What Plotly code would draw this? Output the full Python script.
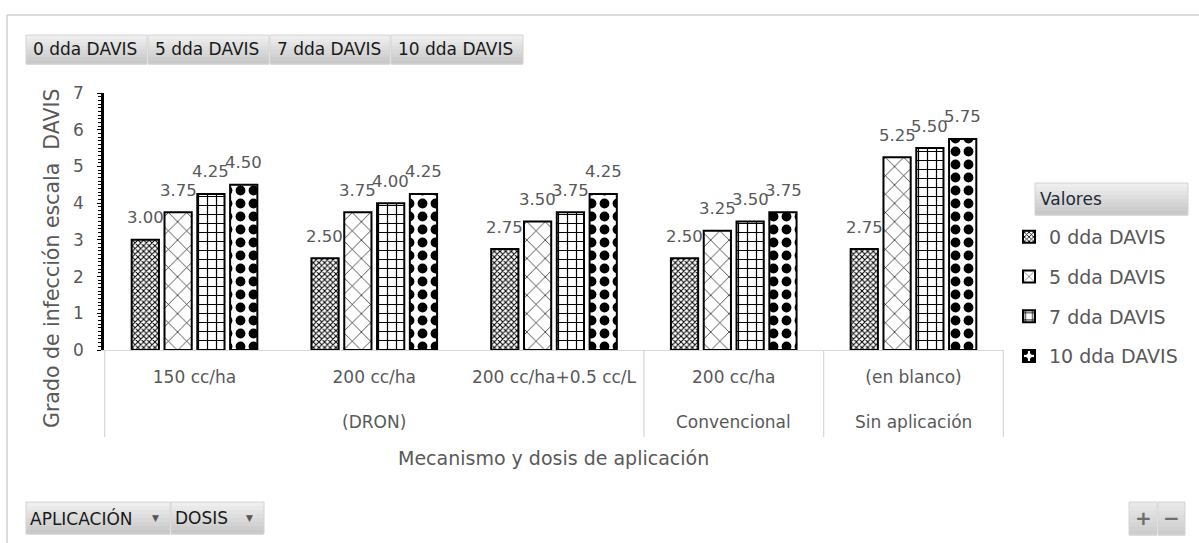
import plotly.graph_objects as go

# ---------------- data ----------------
mecanismo = ["(DRON)", "(DRON)", "(DRON)", "Convencional", "Sin aplicación"]
dosis = ["150 cc/ha", "200 cc/ha", "200 cc/ha+0.5 cc/L", "200 cc/ha", "(en blanco)"]
series_names = ["0 dda DAVIS", "5 dda DAVIS", "7 dda DAVIS", "10 dda DAVIS"]
dda_0 = [3.00, 2.50, 2.75, 2.50, 2.75]
dda_5 = [3.75, 3.75, 3.50, 3.25, 5.25]
dda_7 = [4.25, 4.00, 3.75, 3.50, 5.50]
dda_10 = [4.50, 4.25, 4.25, 3.75, 5.75]
y_ticks = [0, 1, 2, 3, 4, 5, 6, 7]
row_fields = ["APLICACIÓN", "DOSIS"]
legend_title = "Valores"
x_title = "Mecanismo y dosis de aplicación"
y_title = "Grado de infección escala  DAVIS"

series_values = [dda_0, dda_5, dda_7, dda_10]
x_keys = [f"{m} | {d}" for m, d in zip(mecanismo, dosis)]

# ---------------- layout constants (pixels) ----------------
W, H = 1199, 543
L, R, T, B = 104, 1004, 93, 350
PW, PH = R - L, B - T
BARGAP, BARGROUPGAP = 0.27, 0.17
GRAY = "#595959"
FONT = "DejaVu Sans"


def px(xp):
    return (xp - L) / PW


def py(yp):
    return (B - yp) / PH


patterns = [
    dict(shape="x", size=4, solidity=0.45),
    dict(shape="x", size=13, solidity=0.1),
    dict(shape="+", size=9, solidity=0.25),
    dict(shape=".", size=13, solidity=0.45),
]

fig = go.Figure()
for i, (name, vals) in enumerate(zip(series_names, series_values)):
    fig.add_trace(go.Bar(
        name=name,
        x=x_keys,
        y=vals,
        legendgroup=name,
        marker=dict(
            color="white",
            line=dict(color="black", width=2),
            pattern=dict(fgcolor="black", bgcolor="white", fillmode="replace", **patterns[i]),
        ),
        hoverinfo="skip",
    ))

annotations = []
shapes = []

# data labels
n_cat = len(x_keys)
cat_px = PW / n_cat
pitch = cat_px * (1 - BARGAP) / len(series_names)
for i, vals in enumerate(series_values):
    for j, v in enumerate(vals):
        annotations.append(dict(
            x=j, y=v, xref="x", yref="y", text=f"{v:.2f}", showarrow=False,
            xshift=(i - (len(series_names) - 1) / 2) * pitch, yshift=22,
            yanchor="middle", xanchor="center", borderpad=0,
            font=dict(family=FONT, size=16.5, color=GRAY),
        ))

# outer category level (mecanismo) with dividers
groups = []
for j, m in enumerate(mecanismo):
    if groups and groups[-1][0] == m:
        groups[-1][2] = j
    else:
        groups.append([m, j, j])
for m, s, e in groups:
    annotations.append(dict(
        x=(s + e) / 2, y=py(422), xref="x", yref="paper", text=m, showarrow=False,
        xanchor="center", yanchor="middle", font=dict(family=FONT, size=17, color=GRAY)))
boundaries = [s - 0.5 for _, s, _ in groups] + [groups[-1][2] + 0.5]
for b in boundaries:
    shapes.append(dict(type="line", xref="x", yref="paper", x0=b, x1=b, y0=0, y1=py(437),
                       line=dict(color="#d9d9d9", width=1.3)))

# axis titles
annotations.append(dict(
    x=px(553), y=py(458), xref="paper", yref="paper", text=x_title, showarrow=False,
    xanchor="center", yanchor="middle", font=dict(family=FONT, size=19, color=GRAY)))
annotations.append(dict(
    x=px(52), y=py(258), xref="paper", yref="paper", text=y_title, showarrow=False,
    textangle=-90, xanchor="center", yanchor="middle",
    font=dict(family=FONT, size=20.5, color=GRAY)))


def gradient_box(x0, x1, y0, y1, n=8, top=(238, 238, 238), bot=(200, 200, 200)):
    h = (y1 - y0) / n
    for k in range(n):
        t = k / (n - 1)
        c = tuple(int(round(top[m] + (bot[m] - top[m]) * t)) for m in range(3))
        shapes.append(dict(type="rect", xref="paper", yref="paper",
                           x0=px(x0), x1=px(x1), y0=py(y0 + k * h), y1=py(y0 + (k + 1) * h + 0.5),
                           fillcolor="rgb(%d,%d,%d)" % c, line=dict(width=0), layer="above"))
    shapes.append(dict(type="rect", xref="paper", yref="paper",
                       x0=px(x0), x1=px(x1), y0=py(y0), y1=py(y1),
                       fillcolor="rgba(0,0,0,0)", line=dict(color="#d4d4d4", width=1), layer="above"))


# chart frame
shapes.append(dict(type="line", xref="paper", yref="paper", x0=px(7), x1=px(1199), y0=py(15), y1=py(15),
                   line=dict(color="#d0d0d0", width=1.5)))
shapes.append(dict(type="line", xref="paper", yref="paper", x0=px(7), x1=px(7), y0=py(15), y1=py(543),
                   line=dict(color="#d0d0d0", width=1.5)))

# top field buttons
top_edges = [26, 148, 270, 391, 524]
for k, name in enumerate(series_names):
    gradient_box(top_edges[k], top_edges[k + 1] - 1, 35, 64)
    annotations.append(dict(x=px(top_edges[k] + 5), y=py(49.5), xref="paper", yref="paper", text=name,
                            showarrow=False, xanchor="left", yanchor="middle",
                            font=dict(family=FONT, size=17, color="#1a1a1a")))

# bottom field buttons
bot_edges = [26, 171, 265]
for k, name in enumerate(row_fields):
    gradient_box(bot_edges[k], bot_edges[k + 1] - 1, 502, 534)
    annotations.append(dict(x=px(bot_edges[k] + 2), y=py(518), xref="paper", yref="paper", text=name,
                            showarrow=False, xanchor="left", yanchor="middle",
                            font=dict(family=FONT, size=17, color="#1a1a1a")))
    annotations.append(dict(x=px(bot_edges[k + 1] - 16), y=py(518), xref="paper", yref="paper", text="▼",
                            showarrow=False, xanchor="center", yanchor="middle",
                            font=dict(family=FONT, size=9, color="#555555")))

# +/- buttons
for x0, x1, sym in [(1129, 1157, "+"), (1158, 1185, "−")]:
    gradient_box(x0, x1, 502, 535, top=(232, 232, 232), bot=(205, 205, 205))
    annotations.append(dict(x=px((x0 + x1) / 2), y=py(518), xref="paper", yref="paper", text="<b>%s</b>" % sym,
                            showarrow=False, xanchor="center", yanchor="middle",
                            font=dict(family=FONT, size=20, color="#6e6e6e")))

# legend title box
gradient_box(1035, 1188, 183, 215)
annotations.append(dict(x=px(1038), y=py(199), xref="paper", yref="paper", text=legend_title,
                        showarrow=False, xanchor="left", yanchor="middle",
                        font=dict(family=FONT, size=17, color="#1f2a3a")))

fig.update_layout(
    width=W, height=H,
    margin=dict(l=L, r=W - R, t=T, b=H - B, pad=0),
    paper_bgcolor="white", plot_bgcolor="white",
    barmode="group", bargap=BARGAP, bargroupgap=BARGROUPGAP,
    showlegend=True,
    legend=dict(x=px(1009), y=py(218), xanchor="left", yanchor="top",
                font=dict(family=FONT, size=19, color=GRAY),
                tracegroupgap=12, itemwidth=30, bgcolor="rgba(0,0,0,0)"),
    annotations=annotations,
    shapes=shapes,
    xaxis=dict(
        type="category", tickvals=x_keys, ticktext=dosis,
        showline=True, linecolor="#d9d9d9", linewidth=1.3, mirror=False,
        showgrid=False, ticks="", ticklabelstandoff=11,
        tickfont=dict(family=FONT, size=17, color=GRAY),
    ),
    yaxis=dict(
        range=[0, 7], tickvals=y_ticks, showgrid=False, zeroline=False,
        showline=True, linecolor="black", linewidth=2.5,
        ticks="outside", ticklen=4, tickcolor="black", tickwidth=1,
        minor=dict(dtick=0.1, ticks="outside", ticklen=3, tickcolor="black", tickwidth=1),
        ticklabelstandoff=10,
        tickfont=dict(family=FONT, size=17, color=GRAY),
    ),
)

fig.write_html("out.html", config={"displayModeBar": False},
               post_script="document.body.style.margin='0';document.body.style.overflow='hidden';")
